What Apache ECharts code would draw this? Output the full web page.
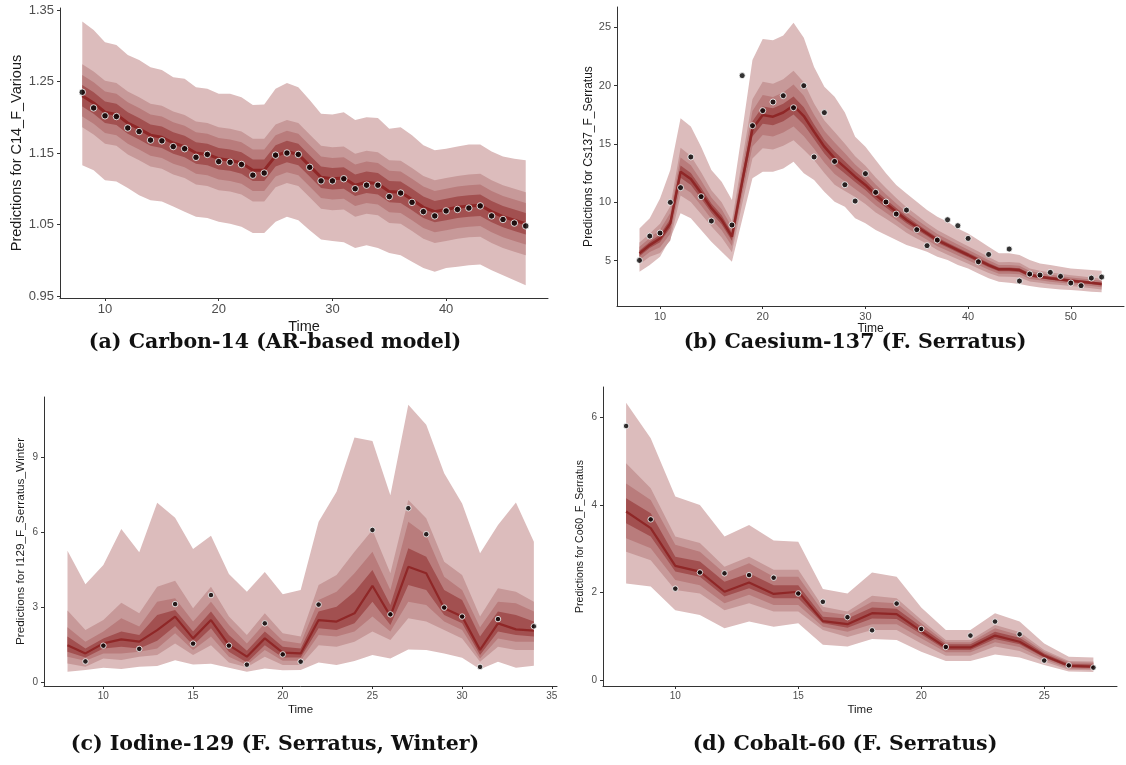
<!DOCTYPE html>
<html>
<head>
<meta charset="utf-8">
<title>Posterior predictive fan charts</title>
<script src="https://cdn.jsdelivr.net/npm/echarts/dist/echarts.min.js"></script>
<style>
  html, body { margin: 0; padding: 0; background: #fff; }
  #chart { width: 1126px; height: 765px; }
</style>
</head>
<body>
<div id="chart"></div>
<script>
// ---- (a) Carbon-14 ----
const c14Time = [8,9,10,11,12,13,14,15,16,17,18,19,20,21,22,23,24,25,26,27,28,29,30,31,32,33,34,35,36,37,38,39,40,41,42,43,44,45,46,47]
const c14Obs = [1.235,1.213,1.202,1.201,1.185,1.180,1.168,1.167,1.159,1.156,1.144,1.148,1.138,1.137,1.134,1.119,1.122,1.147,1.150,1.148,1.130,1.111,1.111,1.114,1.100,1.105,1.105,1.089,1.094,1.081,1.068,1.062,1.069,1.071,1.073,1.076,1.062,1.057,1.052,1.048]
const c14Med = [1.230,1.220,1.207,1.204,1.192,1.184,1.175,1.172,1.164,1.159,1.150,1.148,1.142,1.140,1.136,1.126,1.126,1.146,1.152,1.148,1.132,1.116,1.114,1.115,1.105,1.109,1.107,1.096,1.095,1.085,1.074,1.068,1.071,1.074,1.076,1.077,1.068,1.061,1.056,1.051]
const c14Hi95 = [1.334,1.322,1.305,1.301,1.287,1.280,1.270,1.266,1.256,1.254,1.242,1.240,1.233,1.233,1.228,1.217,1.218,1.240,1.248,1.242,1.224,1.205,1.204,1.207,1.196,1.200,1.199,1.184,1.186,1.175,1.161,1.154,1.156,1.159,1.162,1.162,1.152,1.145,1.142,1.140]
const c14Lo95 = [1.133,1.126,1.112,1.110,1.101,1.091,1.084,1.082,1.075,1.068,1.061,1.059,1.054,1.051,1.047,1.038,1.038,1.054,1.061,1.056,1.042,1.029,1.027,1.025,1.017,1.021,1.017,1.010,1.007,0.998,0.989,0.984,0.989,0.991,0.993,0.994,0.986,0.979,0.972,0.965]
const c14Hi80 = [1.274,1.264,1.251,1.248,1.236,1.228,1.219,1.216,1.208,1.203,1.194,1.192,1.186,1.184,1.180,1.170,1.170,1.190,1.196,1.192,1.176,1.160,1.158,1.159,1.149,1.153,1.151,1.140,1.139,1.129,1.118,1.112,1.115,1.118,1.120,1.121,1.112,1.105,1.100,1.095]
const c14Lo80 = [1.186,1.176,1.163,1.160,1.148,1.140,1.131,1.128,1.120,1.115,1.106,1.104,1.098,1.096,1.092,1.082,1.082,1.102,1.108,1.104,1.088,1.072,1.070,1.071,1.061,1.065,1.063,1.052,1.051,1.041,1.030,1.024,1.027,1.030,1.032,1.033,1.024,1.017,1.012,1.007]
const c14Hi50 = [1.259,1.249,1.236,1.233,1.221,1.213,1.204,1.201,1.193,1.188,1.179,1.177,1.171,1.169,1.165,1.155,1.155,1.175,1.181,1.177,1.161,1.145,1.143,1.144,1.134,1.138,1.136,1.125,1.124,1.114,1.103,1.097,1.100,1.103,1.105,1.106,1.097,1.090,1.085,1.080]
const c14Lo50 = [1.201,1.191,1.178,1.175,1.163,1.155,1.146,1.143,1.135,1.130,1.121,1.119,1.113,1.111,1.107,1.097,1.097,1.117,1.123,1.119,1.103,1.087,1.085,1.086,1.076,1.080,1.078,1.067,1.066,1.056,1.045,1.039,1.042,1.045,1.047,1.048,1.039,1.032,1.027,1.022]
const c14Hi20 = [1.245,1.235,1.222,1.219,1.207,1.199,1.190,1.187,1.179,1.174,1.165,1.163,1.157,1.155,1.151,1.141,1.141,1.161,1.167,1.163,1.147,1.131,1.129,1.130,1.120,1.124,1.122,1.111,1.110,1.100,1.089,1.083,1.086,1.089,1.091,1.092,1.083,1.076,1.071,1.066]
const c14Lo20 = [1.215,1.205,1.192,1.189,1.177,1.169,1.160,1.157,1.149,1.144,1.135,1.133,1.127,1.125,1.121,1.111,1.111,1.131,1.137,1.133,1.117,1.101,1.099,1.100,1.090,1.094,1.092,1.081,1.080,1.070,1.059,1.053,1.056,1.059,1.061,1.062,1.053,1.046,1.041,1.036]
const c14TicksX = [10,20,30,40]
const c14TicksY = [0.95,1.05,1.15,1.25,1.35]

// ---- (b) Caesium-137 ----
const csTime = [8,9,10,11,12,13,14,15,16,17,18,19,20,21,22,23,24,25,26,27,28,29,30,31,32,33,34,35,36,37,38,39,40,41,42,43,44,45,46,47,48,49,50,51,52,53]
const csObs = [5.03,7.11,7.37,10.0,11.26,13.89,10.49,8.4,null,8.06,20.86,16.57,17.86,18.6,19.14,18.11,20.0,13.89,17.69,13.51,11.51,10.11,12.46,10.86,10.03,9.0,9.34,7.66,6.29,6.77,8.51,8.0,6.91,4.91,5.54,null,6.0,3.26,3.86,3.77,4.0,3.66,3.09,2.86,3.51,3.6]
const csMed = [5.63,6.34,6.91,8.2,12.63,12.0,10.8,9.5,8.5,7.06,11.77,16.3,17.48,17.34,17.7,18.3,17.4,16.05,14.77,13.77,13.0,12.2,11.49,10.63,9.91,9.2,8.49,7.91,7.34,6.77,6.34,5.91,5.49,5.06,4.63,4.26,4.26,4.2,3.77,3.63,3.49,3.4,3.29,3.2,3.11,3.0]
const csHi95 = [7.77,8.63,10.34,12.77,17.2,16.49,14.77,12.77,11.77,10.2,16.1,22.2,24.0,23.9,24.3,25.4,24.1,21.6,19.9,19.05,17.7,15.63,14.77,13.63,12.49,11.49,10.77,10.06,9.34,8.77,8.34,7.77,7.34,6.77,6.2,5.63,5.63,5.49,5.06,4.77,4.63,4.49,4.34,4.26,4.2,4.14]
const csLo95 = [4.06,4.63,5.34,6.91,9.06,8.63,7.63,6.63,5.77,4.91,8.5,12.06,12.63,12.63,12.91,13.48,12.49,11.91,10.91,10.05,9.63,8.63,8.2,7.63,7.2,6.77,6.34,6.06,5.77,5.34,5.06,4.63,4.34,3.91,3.49,3.2,3.11,3.0,2.83,2.71,2.63,2.54,2.49,2.43,2.34,2.29]
const csHi80 = [6.56,7.34,8.16,9.67,14.67,13.97,12.59,11.04,10.0,8.39,13.67,18.84,20.33,20.16,20.55,21.28,20.30,18.47,17.02,16.02,15.02,13.95,13.13,12.13,11.23,10.38,9.59,8.91,8.23,7.63,7.16,6.70,6.24,5.78,5.31,4.87,4.89,4.82,4.33,4.15,3.99,3.89,3.75,3.66,3.57,3.46]
const csLo80 = [4.70,5.34,5.66,6.73,10.59,10.03,9.01,7.96,7.0,5.73,9.87,13.76,14.63,14.52,14.85,15.32,14.50,13.63,12.52,11.52,10.98,10.45,9.85,9.13,8.59,8.02,7.39,6.91,6.45,5.91,5.52,5.12,4.74,4.34,3.95,3.65,3.63,3.58,3.21,3.11,2.99,2.91,2.83,2.74,2.65,2.54]
const csHi50 = [6.19,6.94,7.66,9.08,13.85,13.18,11.87,10.42,9.4,7.86,12.91,17.82,19.19,19.03,19.41,20.09,19.14,17.50,16.12,15.12,14.21,13.25,12.48,11.53,10.70,9.91,9.15,8.51,7.88,7.29,6.83,6.38,5.94,5.49,5.04,4.63,4.64,4.57,4.11,3.94,3.79,3.69,3.57,3.47,3.39,3.28]
const csLo50 = [5.07,5.74,6.16,7.32,11.41,10.82,9.73,8.58,7.6,6.26,10.63,14.78,15.77,15.65,15.99,16.51,15.66,14.60,13.42,12.42,11.79,11.15,10.50,9.73,9.12,8.49,7.83,7.31,6.80,6.25,5.85,5.44,5.04,4.63,4.22,3.89,3.88,3.83,3.43,3.32,3.19,3.11,3.01,2.93,2.83,2.72]
const csHi20 = [5.87,6.60,7.24,8.58,13.16,12.51,11.26,9.90,8.89,7.40,12.26,16.96,18.22,18.07,18.44,19.07,18.15,16.68,15.35,14.35,13.52,12.66,11.92,11.02,10.25,9.51,8.78,8.17,7.57,6.99,6.55,6.11,5.69,5.25,4.81,4.42,4.42,4.36,3.92,3.76,3.62,3.53,3.41,3.32,3.23,3.12]
const csLo20 = [5.39,6.08,6.58,7.82,12.10,11.49,10.34,9.10,8.11,6.72,11.28,15.64,16.74,16.61,16.96,17.53,16.65,15.42,14.19,13.19,12.48,11.74,11.06,10.24,9.57,8.89,8.20,7.65,7.11,6.55,6.13,5.71,5.29,4.87,4.45,4.10,4.10,4.04,3.62,3.50,3.36,3.27,3.17,3.08,2.99,2.88]
const csTicksX = [10,20,30,40,50]
const csTicksY = [5,10,15,20,25]

// ---- (c) Iodine-129 ----
const iTime = [8,9,10,11,12,13,14,15,16,17,18,19,20,21,22,23,24,25,26,27,28,29,30,31,32,33,34]
const iObs = [null,0.85,1.48,null,1.35,null,3.14,1.56,3.50,1.48,0.72,2.37,1.13,0.84,3.12,null,null,6.10,2.73,6.97,5.93,3.0,2.64,0.63,2.54,null,2.25]
const iMed = [1.50,1.17,1.57,1.73,1.64,2.10,2.64,1.77,2.50,1.50,1.04,1.77,1.20,1.17,2.50,2.44,2.77,3.87,2.66,4.63,4.37,2.97,2.64,1.31,2.37,2.13,2.08]
const iHi95 = [5.27,3.93,4.70,6.14,5.21,7.19,6.59,5.34,5.87,4.34,3.63,4.42,3.53,3.70,6.43,7.63,9.79,9.65,7.49,11.1,10.3,8.36,7.16,5.17,6.30,7.20,5.63]
const iLo95 = [0.44,0.51,0.60,0.55,0.64,0.67,0.90,0.73,0.76,0.60,0.44,0.57,0.50,0.51,0.81,0.71,0.87,1.11,0.97,1.33,1.31,1.17,1.00,0.54,0.84,0.60,0.68]
const iHi80 = [2.88,2.10,2.50,3.19,2.77,3.83,4.07,2.97,3.83,2.64,1.90,2.77,1.97,1.84,3.90,4.30,5.23,6.10,4.37,7.30,6.57,4.83,4.30,2.64,3.77,3.63,3.23]
const iLo80 = [0.77,0.64,0.97,0.91,1.04,1.11,1.57,1.11,1.50,0.81,0.62,1.04,0.71,0.71,1.50,1.44,1.64,2.04,1.71,2.57,2.44,2.10,1.77,0.84,1.44,1.31,1.31]
const iHi50 = [2.21,1.64,2.04,2.57,2.24,3.23,3.37,2.44,3.23,2.30,1.57,2.37,1.68,1.57,3.30,3.63,4.37,5.23,3.70,6.43,5.90,4.23,3.70,2.21,3.23,3.17,2.84]
const iLo50 = [1.04,0.88,1.17,1.17,1.24,1.37,1.97,1.31,1.84,1.04,0.71,1.31,0.88,0.88,1.90,1.84,2.04,2.64,2.04,3.23,3.10,2.44,2.10,0.97,1.77,1.64,1.64]
const iHi20 = [1.84,1.37,1.77,2.04,1.90,2.70,2.90,2.04,2.84,1.90,1.28,2.04,1.44,1.37,2.84,3.03,3.63,4.50,3.10,5.37,5.03,3.70,3.30,1.84,2.84,2.70,2.44]
const iLo20 = [1.24,1.01,1.37,1.44,1.37,1.68,2.26,1.50,2.17,1.24,0.81,1.50,1.01,1.01,2.17,2.10,2.37,3.23,2.30,3.90,3.70,2.70,2.37,1.11,2.04,1.90,1.84]
const iTicksX = [10,15,20,25,30,35]
const iTicksY = [0,3,6,9]

// ---- (d) Cobalt-60 ----
const coTime = [8,9,10,11,12,13,14,15,16,17,18,19,20,21,22,23,24,25,26,27]
const coObs = [5.80,3.67,2.09,2.46,2.44,2.40,2.34,1.98,1.79,1.44,1.14,1.75,1.17,0.76,1.02,1.34,1.05,0.45,0.34,0.29]
const coMed = [3.85,3.47,2.61,2.48,2.02,2.23,1.97,2.02,1.35,1.28,1.53,1.51,1.12,0.75,0.75,1.02,0.88,0.56,0.33,0.31]
const coHi95 = [6.33,5.52,4.19,4.00,3.28,3.54,3.19,3.16,2.08,1.98,2.46,2.36,1.66,1.15,1.15,1.53,1.34,0.84,0.54,0.52]
const coLo95 = [2.21,2.14,1.60,1.49,1.19,1.34,1.22,1.30,0.81,0.77,0.94,0.92,0.65,0.44,0.44,0.59,0.52,0.35,0.20,0.19]
const coHi80 = [4.95,4.38,3.28,3.13,2.59,2.82,2.52,2.52,1.68,1.57,1.93,1.87,1.38,0.92,0.92,1.26,1.10,0.69,0.44,0.43]
const coLo80 = [2.93,2.74,2.06,1.98,1.60,1.76,1.57,1.57,1.15,0.99,1.15,1.15,0.84,0.56,0.56,0.77,0.67,0.43,0.24,0.23]
const coHi50 = [4.49,4.11,3.09,2.93,2.44,2.67,2.36,2.36,1.57,1.49,1.79,1.76,1.30,0.87,0.87,1.19,1.03,0.65,0.41,0.40]
const coLo50 = [3.24,3.01,2.29,2.17,1.76,1.95,1.72,1.72,1.22,1.11,1.28,1.28,0.96,0.64,0.64,0.87,0.76,0.48,0.27,0.25]
const coHi20 = [4.15,3.81,2.82,2.71,2.25,2.44,2.17,2.17,1.45,1.41,1.66,1.63,1.22,0.82,0.82,1.11,0.97,0.61,0.38,0.36]
const coLo20 = [3.58,3.28,2.48,2.36,1.91,2.10,1.87,1.87,1.30,1.20,1.41,1.40,1.05,0.69,0.69,0.94,0.82,0.52,0.30,0.28]
const coTicksX = [10,15,20,25]
const coTicksY = [0,2,4,6]

const captions = [
  '(a) Carbon-14 (AR-based model)',
  '(b) Caesium-137 (F. Serratus)',
  '(c) Iodine-129 (F. Serratus, Winter)',
  '(d) Cobalt-60 (F. Serratus)'
]

const bandColors = ['#DCBCBC', '#C79999', '#B97C7C', '#A25050']
const lineColor = '#8F2727'
const FONT = '"Liberation Sans", Arial, sans-serif'
const CAPFONT = 'bold 20.5px "DejaVu Serif", serif'

// polygon between lo and hi, placed with the axis scales
function band(k, time, lo, hi, color, z) {
  return {
    type: 'custom',
    xAxisIndex: k,
    yAxisIndex: k,
    silent: true,
    z: z,
    data: [[time[0], lo[0]]],
    renderItem: function (params, api) {
      var pts = []
      for (var i = 0; i < time.length; i++) pts.push(api.coord([time[i], hi[i]]))
      for (var j = time.length - 1; j >= 0; j--) pts.push(api.coord([time[j], lo[j]]))
      return { type: 'polygon', shape: { points: pts }, style: { fill: color } }
    }
  }
}

function panel(k, time, bands, med, obs, lineW, dot) {
  var s = []
  for (var j = 0; j < bands.length; j++) {
    s.push(band(k, time, bands[j][0], bands[j][1], bandColors[j], 2 + j))
  }
  var line = []
  var pts = []
  for (var i = 0; i < time.length; i++) {
    line.push([time[i], med[i]])
    if (obs[i] != null) pts.push([time[i], obs[i]])
  }
  s.push({
    type: 'line', xAxisIndex: k, yAxisIndex: k, data: line, symbol: 'none', silent: true, z: 8,
    lineStyle: { color: lineColor, width: lineW }
  })
  s.push({
    type: 'scatter', xAxisIndex: k, yAxisIndex: k, data: pts, symbolSize: dot, silent: true, z: 9,
    itemStyle: { color: '#000', borderColor: '#fff', borderWidth: 1 }
  })
  return s
}

function xAxis(k, min, max, ticks, fs, nfs, gap) {
  return {
    type: 'value', gridIndex: k, min: min, max: max,
    name: 'Time', nameLocation: 'middle', nameGap: gap,
    nameTextStyle: { fontFamily: FONT, fontSize: nfs, color: '#1a1a1a' },
    axisLine: { show: true, onZero: false, lineStyle: { color: '#333', width: 1 } },
    axisTick: { show: true, length: 3, customValues: ticks, lineStyle: { color: '#333' } },
    axisLabel: { customValues: ticks, fontFamily: FONT, fontSize: fs, color: '#4d4d4d', margin: 5 },
    splitLine: { show: false }
  }
}

function yAxis(k, min, max, ticks, fs, name, nfs, gap, fmt) {
  return {
    type: 'value', gridIndex: k, min: min, max: max,
    name: name, nameLocation: 'middle', nameGap: gap,
    nameTextStyle: { fontFamily: FONT, fontSize: nfs, color: '#1a1a1a' },
    axisLine: { show: true, onZero: false, lineStyle: { color: '#333', width: 1 } },
    axisTick: { show: true, length: 3, customValues: ticks, lineStyle: { color: '#333' } },
    axisLabel: { customValues: ticks, fontFamily: FONT, fontSize: fs, color: '#4d4d4d', margin: 6, formatter: fmt },
    splitLine: { show: false }
  }
}

function caption(text, x, y) {
  return {
    type: 'text', x: x, y: y, silent: true,
    style: { text: text, font: CAPFONT, fill: '#111', align: 'center', verticalAlign: 'middle' }
  }
}

var chart = echarts.init(document.getElementById('chart'), null, { renderer: 'canvas' })

var series = [].concat(
  panel(0, c14Time, [[c14Lo95, c14Hi95], [c14Lo80, c14Hi80], [c14Lo50, c14Hi50], [c14Lo20, c14Hi20]], c14Med, c14Obs, 3, 6.5),
  panel(1, csTime, [[csLo95, csHi95], [csLo80, csHi80], [csLo50, csHi50], [csLo20, csHi20]], csMed, csObs, 2.5, 6),
  panel(2, iTime, [[iLo95, iHi95], [iLo80, iHi80], [iLo50, iHi50], [iLo20, iHi20]], iMed, iObs, 2.2, 5.5),
  panel(3, coTime, [[coLo95, coHi95], [coLo80, coHi80], [coLo50, coHi50], [coLo20, coHi20]], coMed, coObs, 2.2, 5.5)
)

chart.setOption({
  animation: false,
  backgroundColor: '#fff',
  grid: [
    { left: 60, top: 8, width: 488, height: 290 },
    { left: 617, top: 7, width: 507, height: 299 },
    { left: 44, top: 397, width: 513, height: 289 },
    { left: 603, top: 387, width: 514, height: 299 }
  ],
  xAxis: [
    xAxis(0, 6.04, 48.96, c14TicksX, 13, 14.5, 21),
    xAxis(1, 5.81, 55.18, csTicksX, 11, 12, 17),
    xAxis(2, 6.69, 35.29, iTicksX, 10, 11.5, 18),
    xAxis(3, 7.06, 27.96, coTicksX, 10, 11.5, 18)
  ],
  yAxis: [
    yAxis(0, 0.9472, 1.3528, c14TicksY, 13, 'Predictions for C14_F_Various', 14.5, 36, function (v) { return v.toFixed(2) }),
    yAxis(1, 1.12, 26.74, csTicksY, 11, 'Predictions for Cs137_F_Serratus', 12, 22),
    yAxis(2, -0.132, 11.41, iTicksY, 10, 'Predictions for I129_F_Serratus_Winter', 11.8, 17),
    yAxis(3, -0.13, 6.69, coTicksY, 10, 'Predictions for Co60_F_Serratus', 10.5, 17)
  ],
  graphic: [
    caption(captions[0], 275, 343),
    caption(captions[1], 855, 343),
    caption(captions[2], 275, 745),
    caption(captions[3], 845, 745)
  ],
  series: series
})
</script>
</body>
</html>
